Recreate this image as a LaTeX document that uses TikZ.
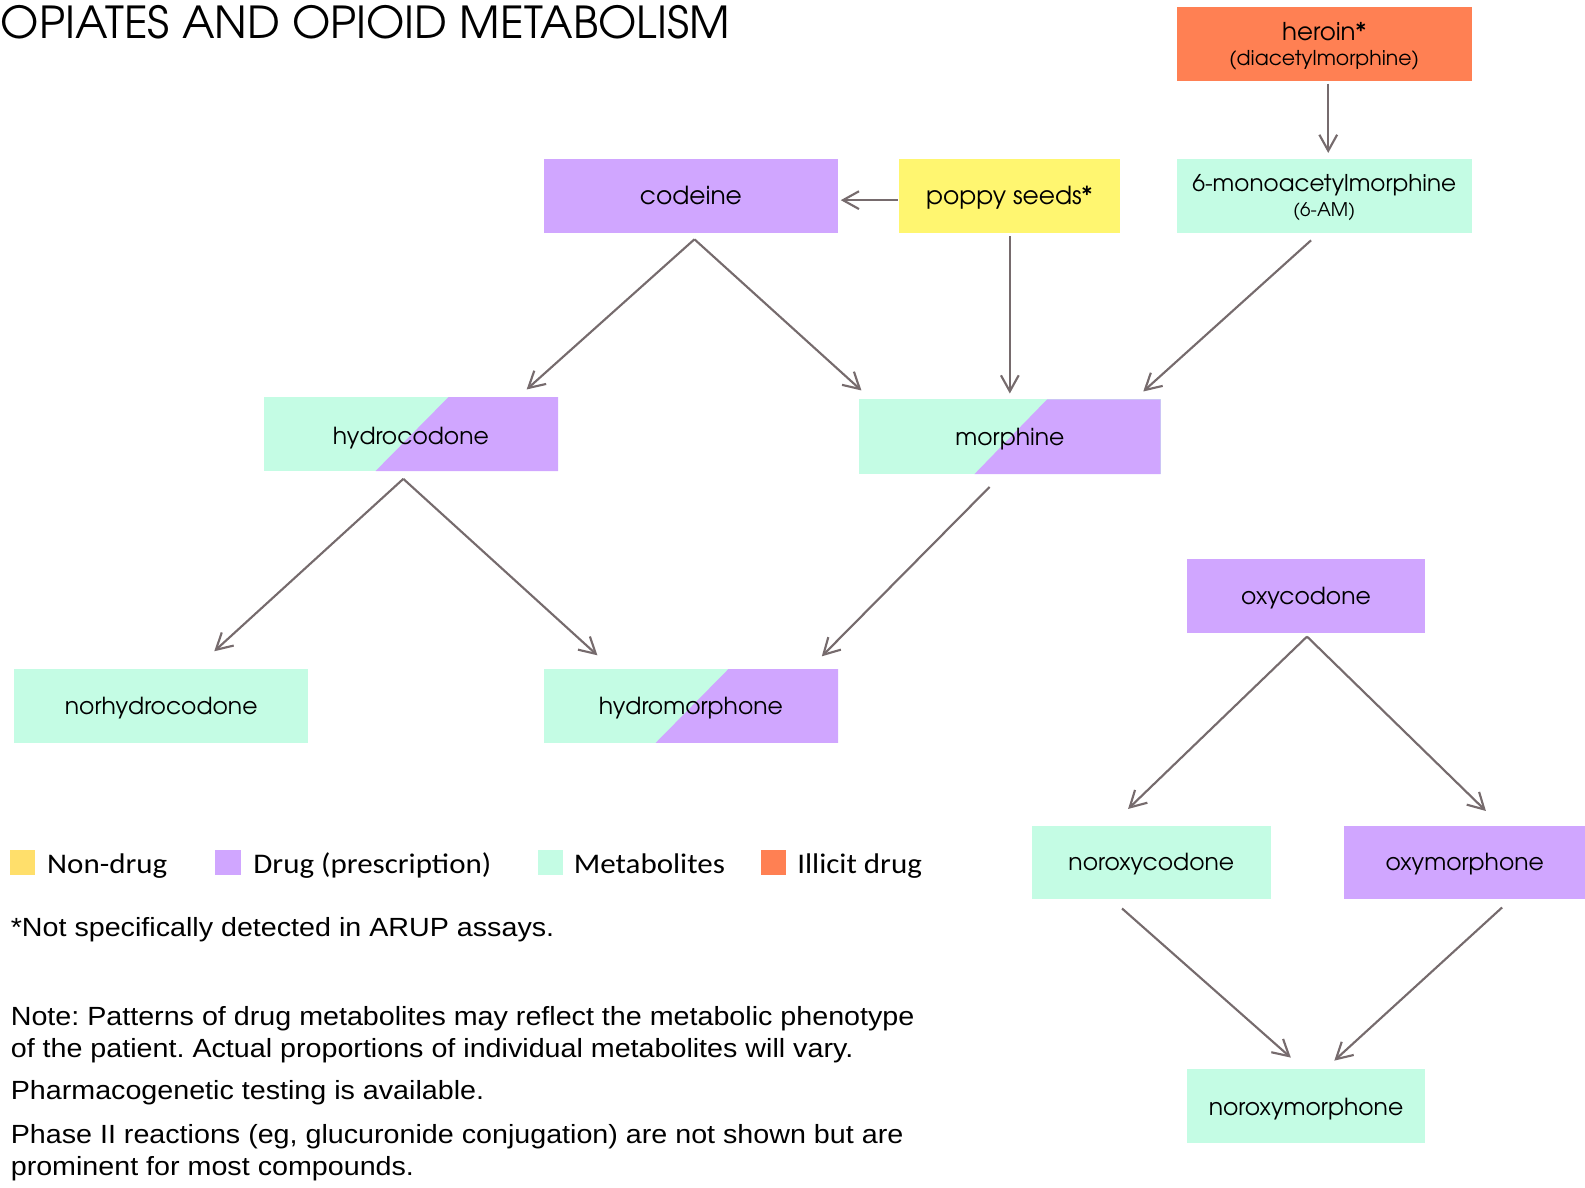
\documentclass[tikz,border=0pt]{standalone}
\usepackage{fontspec}
\setmainfont{Liberation Sans}
\newfontfamily\gothic{TeX Gyre Adventor}
\newfontfamily\calib[FakeStretch=1.09]{Carlito}
\newfontfamily\wide[FakeStretch=1.09]{Liberation Sans}
\usetikzlibrary{calc,arrows.meta}

\definecolor{drug}{RGB}{208,166,255}
\definecolor{metab}{RGB}{196,252,228}
\definecolor{illicit}{RGB}{255,128,83}
\definecolor{poppy}{RGB}{255,246,112}
\definecolor{nondrug}{RGB}{255,223,107}
\definecolor{arrowgray}{RGB}{118,107,109}

\begin{document}
\frenchspacing
\begin{tikzpicture}[x=0.01cm,y=-0.01cm,
		box/.style={shape=rectangle,minimum height=0.73cm,inner sep=0pt,align=center,text depth=0pt,font=\gothic\fontsize{6.6}{8}\selectfont},
		drugbox/.style={box,fill=drug},
		metabox/.style={box,fill=metab},
		splitbox/.style={box,fill=metab,path picture={
			\fill[drug] ($(path picture bounding box.north)+(37,0)$) -- (path picture bounding box.north east)
				-- (path picture bounding box.south east) -- ($(path picture bounding box.south)+(-35,0)$) -- cycle;}},
		arr/.style={draw=arrowgray,line width=0.6pt,-{Straight Barb[length=4.5pt,width=5pt]}},
		legend/.style={anchor=base west,inner sep=0pt,font=\calib\fontsize{8}{10}\selectfont},
		note/.style={anchor=base west,inner sep=0pt,align=left,font=\wide\fontsize{7.4}{9.1}\selectfont}]

		\useasboundingbox (0,0) rectangle (1568,1175);

		\node[anchor=west,inner sep=0pt,font=\gothic\fontsize{12.4}{15}\selectfont] (title) at (0,22) {OPIATES AND OPIOID METABOLISM};

		% boxes
		\node[box,fill=illicit,minimum width=2.92cm] (heroin) at (1310,43.5) {{\fontsize{6.9}{8}\selectfont heroin*}\\[-1pt]{\fontsize{5.75}{7}\selectfont (diacetylmorphine)}};
		\node[metabox,minimum width=2.92cm] (mam) at (1310,193.5) {{\fontsize{6.5}{8}\selectfont 6-monoacetylmorphine}\\[-1pt]{\fontsize{5.3}{6.5}\selectfont (6-AM)}};
		\node[drugbox,minimum width=2.91cm,font=\gothic\fontsize{7}{8}\selectfont] (codeine) at (683.5,193.5) {codeine};
		\node[box,fill=poppy,minimum width=2.19cm,font=\gothic\fontsize{7}{8}\selectfont] (poppy) at (998.5,193.5) {poppy seeds*};
		\node[splitbox,minimum width=2.91cm,text height=6pt] (hydrocodone) at (406.5,429.5) {hydrocodone};
		\node[splitbox,minimum width=2.98cm,minimum height=0.74cm] (morphine) at (999,432) {morphine};
		\node[splitbox,minimum width=2.91cm] (hydromorphone) at (683.5,698.5) {hydromorphone};
		\node[metabox,minimum width=2.91cm] (norhydrocodone) at (159.5,698.5) {norhydrocodone};
		\node[drugbox,minimum width=2.36cm] (oxycodone) at (1292,589.5) {oxycodone};
		\node[metabox,minimum width=2.36cm,minimum height=0.72cm] (noroxycodone) at (1139,853) {noroxycodone};
		\node[drugbox,minimum width=2.38cm,minimum height=0.72cm] (oxymorphone) at (1449,853) {oxymorphone};
		\node[metabox,minimum width=2.36cm] (noroxymorphone) at (1292,1094.5) {noroxymorphone};

		% arrows
		\draw[arr] ($(heroin.south)+(4,2)$) -- ($(mam.north)+(4,-5)$);
		\draw[arr] ($(poppy.west)+(0,4.5)$) -- ($(codeine.east)+(2,4.5)$);
		\draw[arr] ($(codeine.south)+(3.5,6)$) -- ($(hydrocodone.north)+(114.5,-7)$);
		\draw[arr] ($(codeine.south)+(3.5,6)$) -- ($(morphine.north west)+(3,-8)$);
		\draw[arr] ($(poppy.south)+(0.5,3)$) -- ($(morphine.north)+(0,-5)$);
		\draw[arr] ($(mam.south)+(-13,7)$) -- ($(morphine.north)+(132,-7)$);
		\draw[arr] ($(hydrocodone.south)+(-7.5,7)$) -- ($(norhydrocodone.north)+(52.5,-17)$);
		\draw[arr] ($(hydrocodone.south)+(-7.5,7)$) -- ($(hydromorphone.north)+(-92.5,-13)$);
		\draw[arr] ($(morphine.south)+(-20,12)$) -- ($(hydromorphone.north)+(129.5,-12)$);
		\draw[arr] ($(oxycodone.south)+(1,3)$) -- ($(noroxycodone.north)+(-23,-16)$);
		\draw[arr] ($(oxycodone.south)+(1,3)$) -- ($(oxymorphone.north)+(21,-14)$);
		\draw[arr] ($(noroxycodone.south)+(-29,9)$) -- ($(noroxymorphone.north)+(-15,-11)$);
		\draw[arr] ($(oxymorphone.south)+(37,8)$) -- ($(noroxymorphone.north)+(28,-8)$);

		% legend
		\fill[nondrug] (10,841) rectangle (35,866);
		\node[legend] (lnondrug) at (46,864) {Non-drug};
		\fill[drug] (213,841) rectangle (238,866);
		\node[legend] (ldrug) at (250,864) {Drug (prescription)};
		\fill[metab] (532,841) rectangle (557,866);
		\node[legend] (lmetab) at (567,864) {Metabolites};
		\fill[illicit] (753,841) rectangle (778,866);
		\node[legend] (lillicit) at (788,864) {Illicit drug};

		% notes
		\node[note] (star) at (10,926) {*Not specifically detected in ARUP assays.};
		\node[note] (note1) at (10,1046) {Note: Patterns of drug metabolites may reflect the metabolic phenotype\\of the patient. Actual proportions of individual metabolites will vary.};
		\node[note] (note2) at (10,1088) {Pharmacogenetic testing is available.};
		\node[note] (note3) at (10,1163) {Phase II reactions (eg, glucuronide conjugation) are not shown but are\\prominent for most compounds.};

\end{tikzpicture}
\end{document}
